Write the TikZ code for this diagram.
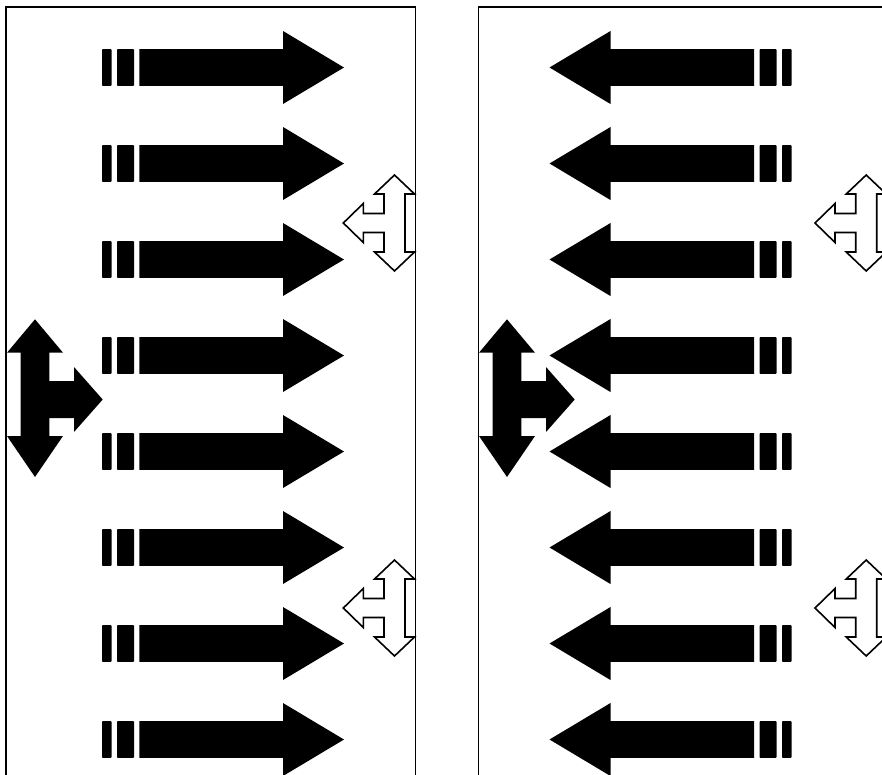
\documentclass[tikz,border=0pt]{standalone}
\newcommand\mainarr[1]{%
  \fill[blackshape,rounded corners=0.8pt] (102,#1-18.4) rectangle (111.5,#1+18.4);
  \fill[blackshape,rounded corners=0.8pt] (117,#1-18.4) rectangle (134,#1+18.4);
  \fill[blackshape] (139.3,#1-18.4) -- (283,#1-18.4) -- (283,#1-36.5) -- (344,#1)
     -- (283,#1+36.5) -- (283,#1+18.4) -- (139.3,#1+18.4) -- cycle;
}
\newcommand\blackT{%
  \fill[blackshape] (35,319.3) -- (63,352.7) -- (49.3,352.7) -- (49.3,381) -- (74,381)
     -- (74,367) -- (102.7,399.5) -- (74,432) -- (74,418) -- (49.3,418) -- (49.3,436)
     -- (63,436) -- (35,477) -- (7,436) -- (20.7,436) -- (20.7,352.7) -- (7,352.7) -- cycle;
}
\newcommand\outT[1]{%
  \draw[outlineT] (394.5,#1) -- (414.5,#1+19) -- (405,#1+19) -- (405,#1+77)
     -- (414.5,#1+77) -- (394.5,#1+96) -- (374.5,#1+77) -- (384,#1+77)
     -- (384,#1+57.5) -- (363.3,#1+57.5) -- (363.3,#1+67.5) -- (343.3,#1+48)
     -- (363.3,#1+28.5) -- (363.3,#1+38.5) -- (384,#1+38.5) -- (384,#1+19)
     -- (374.5,#1+19) -- cycle;
}
\begin{document}
\begin{tikzpicture}[x=1pt,y=-1pt,
  blackshape/.style={fill=black},
  outlineT/.style={draw=black,fill=white,line width=1.6pt,line join=miter},
  boxline/.style={draw=black,line width=1.6pt}]
\useasboundingbox (0,0) rectangle (882,774);
\clip (0,0) rectangle (882,774);
\fill[white] (0,0) rectangle (882,774);
% boxes
\draw[boxline] (6,6.7) rectangle (415.5,800);
\draw[boxline] (478.3,6.7) rectangle (888,800);
% left column arrows
\foreach \yc in {67.5,163.5,259.5,355.5,451.5,547.5,643.5,739.5} {\mainarr{\yc}}
% right column arrows (mirrored)
\begin{scope}[xshift=893.5pt,xscale=-1]
\foreach \yc in {67.5,163.5,259.5,355.5,451.5,547.5,643.5,739.5} {\mainarr{\yc}}
\end{scope}
% black T arrows
\blackT
\begin{scope}[xshift=472pt]
\blackT
\end{scope}
% outline T arrows
\outT{175}
\outT{560}
\begin{scope}[xshift=471.7pt]
\outT{175}
\outT{560}
\end{scope}
\end{tikzpicture}
\end{document}
